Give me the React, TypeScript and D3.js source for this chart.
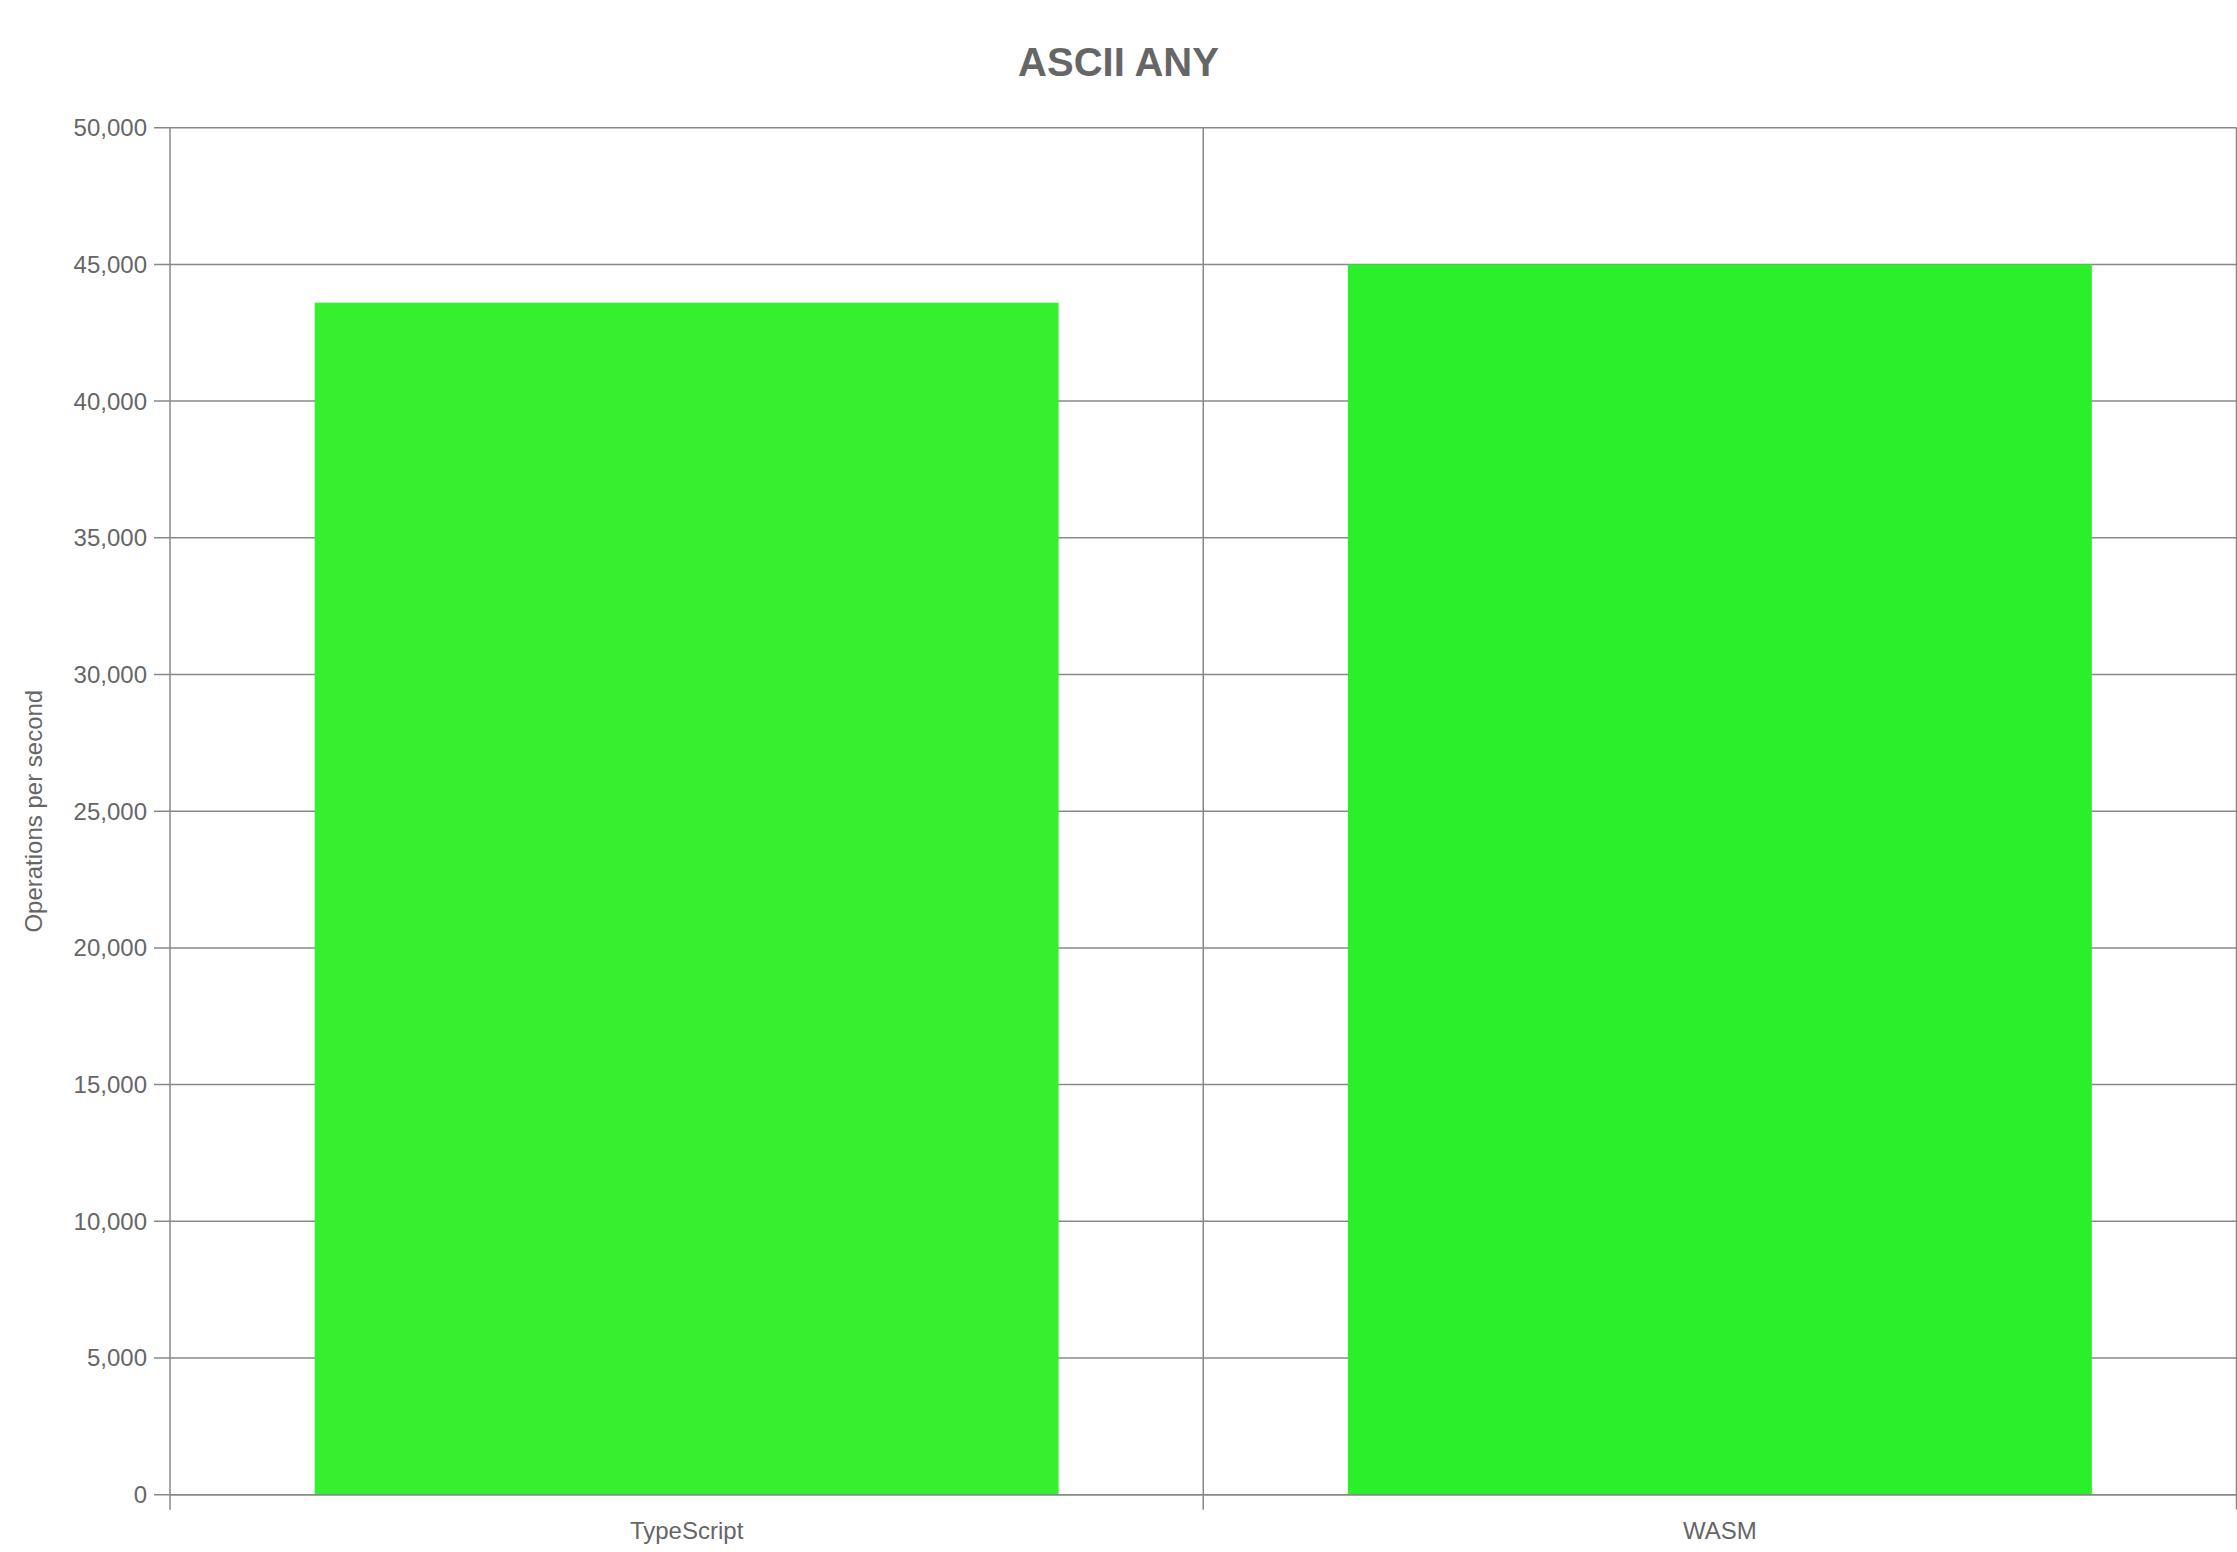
import React, { useEffect, useRef } from 'react'
import * as d3 from 'd3'

const categories = ['TypeScript', 'WASM']
const opsPerSecond = [43600, 45000]
const barColors = ['#36ef2e', '#2cef2c']
const yTicks = [0, 5000, 10000, 15000, 20000, 25000, 30000, 35000, 40000, 45000, 50000]

const chartTitle = 'ASCII ANY'
const yAxisTitle = 'Operations per second'

export default function App() {
  const svgRef = useRef<SVGSVGElement | null>(null)

  useEffect(() => {
    document.body.style.margin = '0'
    if (!svgRef.current) {
      return
    }

    const width = 2237
    const height = 1552
    const margin = { top: 127.7, right: 0.5, bottom: 57.3, left: 170 }
    const gridColor = '#888888'
    const textColor = '#666666'
    const fontFamily = '"Liberation Sans", Arial, Helvetica, sans-serif'

    const svg = d3.select(svgRef.current)
    svg.attr('viewBox', `0 0 ${width} ${height}`)
    svg.selectAll('*').remove()

    const x0 = margin.left
    const x1 = width - margin.right
    const y0 = height - margin.bottom
    const y1 = margin.top

    const xScale = d3.scaleBand<string>().domain(categories).range([x0, x1]).padding(0)
    const yScale = d3.scaleLinear().domain([0, 50000]).range([y0, y1])
    const barWidth = xScale.bandwidth() * 0.72

    // horizontal grid lines + y ticks
    svg
      .append('g')
      .selectAll('line')
      .data(yTicks)
      .enter()
      .append('line')
      .attr('x1', x0 - 16)
      .attr('x2', x1)
      .attr('y1', (d) => yScale(d))
      .attr('y2', (d) => yScale(d))
      .attr('stroke', gridColor)
      .attr('stroke-width', 1.5)

    // vertical grid lines at category boundaries
    const boundaries = [...categories.map((c) => xScale(c) ?? 0), x1]
    svg
      .append('g')
      .selectAll('line')
      .data(boundaries)
      .enter()
      .append('line')
      .attr('x1', (d) => d)
      .attr('x2', (d) => d)
      .attr('y1', y1)
      .attr('y2', y0 + 15)
      .attr('stroke', gridColor)
      .attr('stroke-width', 1.5)

    // bars
    svg
      .append('g')
      .selectAll('rect')
      .data(categories)
      .enter()
      .append('rect')
      .attr('x', (d) => (xScale(d) ?? 0) + (xScale.bandwidth() - barWidth) / 2)
      .attr('y', (_, i) => yScale(opsPerSecond[i]))
      .attr('width', barWidth)
      .attr('height', (_, i) => y0 - yScale(opsPerSecond[i]))
      .attr('fill', (_, i) => barColors[i])

    // baseline over the bars
    svg
      .append('line')
      .attr('x1', x0)
      .attr('x2', x1)
      .attr('y1', y0)
      .attr('y2', y0)
      .attr('stroke', gridColor)
      .attr('stroke-width', 1.5)

    // y tick labels
    svg
      .append('g')
      .selectAll('text')
      .data(yTicks)
      .enter()
      .append('text')
      .attr('x', 147)
      .attr('y', (d) => yScale(d))
      .attr('dy', '0.35em')
      .attr('text-anchor', 'end')
      .attr('fill', textColor)
      .attr('font-family', fontFamily)
      .attr('font-size', 24)
      .text((d) => d3.format(',')(d))

    // x tick labels
    svg
      .append('g')
      .selectAll('text')
      .data(categories)
      .enter()
      .append('text')
      .attr('x', (d) => (xScale(d) ?? 0) + xScale.bandwidth() / 2)
      .attr('y', 1539.3)
      .attr('text-anchor', 'middle')
      .attr('fill', textColor)
      .attr('font-family', fontFamily)
      .attr('font-size', 24)
      .text((d) => d)

    // y axis title
    svg
      .append('text')
      .attr('transform', `translate(42, ${(y0 + y1) / 2}) rotate(-90)`)
      .attr('text-anchor', 'middle')
      .attr('fill', textColor)
      .attr('font-family', fontFamily)
      .attr('font-size', 24)
      .text(yAxisTitle)

    // chart title
    svg
      .append('text')
      .attr('x', width / 2)
      .attr('y', 76)
      .attr('text-anchor', 'middle')
      .attr('fill', textColor)
      .attr('font-family', fontFamily)
      .attr('font-size', 40)
      .attr('font-weight', 'bold')
      .text(chartTitle)
  }, [])

  return (
    <svg
      ref={svgRef}
      width={2237}
      height={1552}
      style={{ display: 'block', background: '#ffffff' }}
      role="img"
      aria-label={chartTitle}
    />
  )
}
